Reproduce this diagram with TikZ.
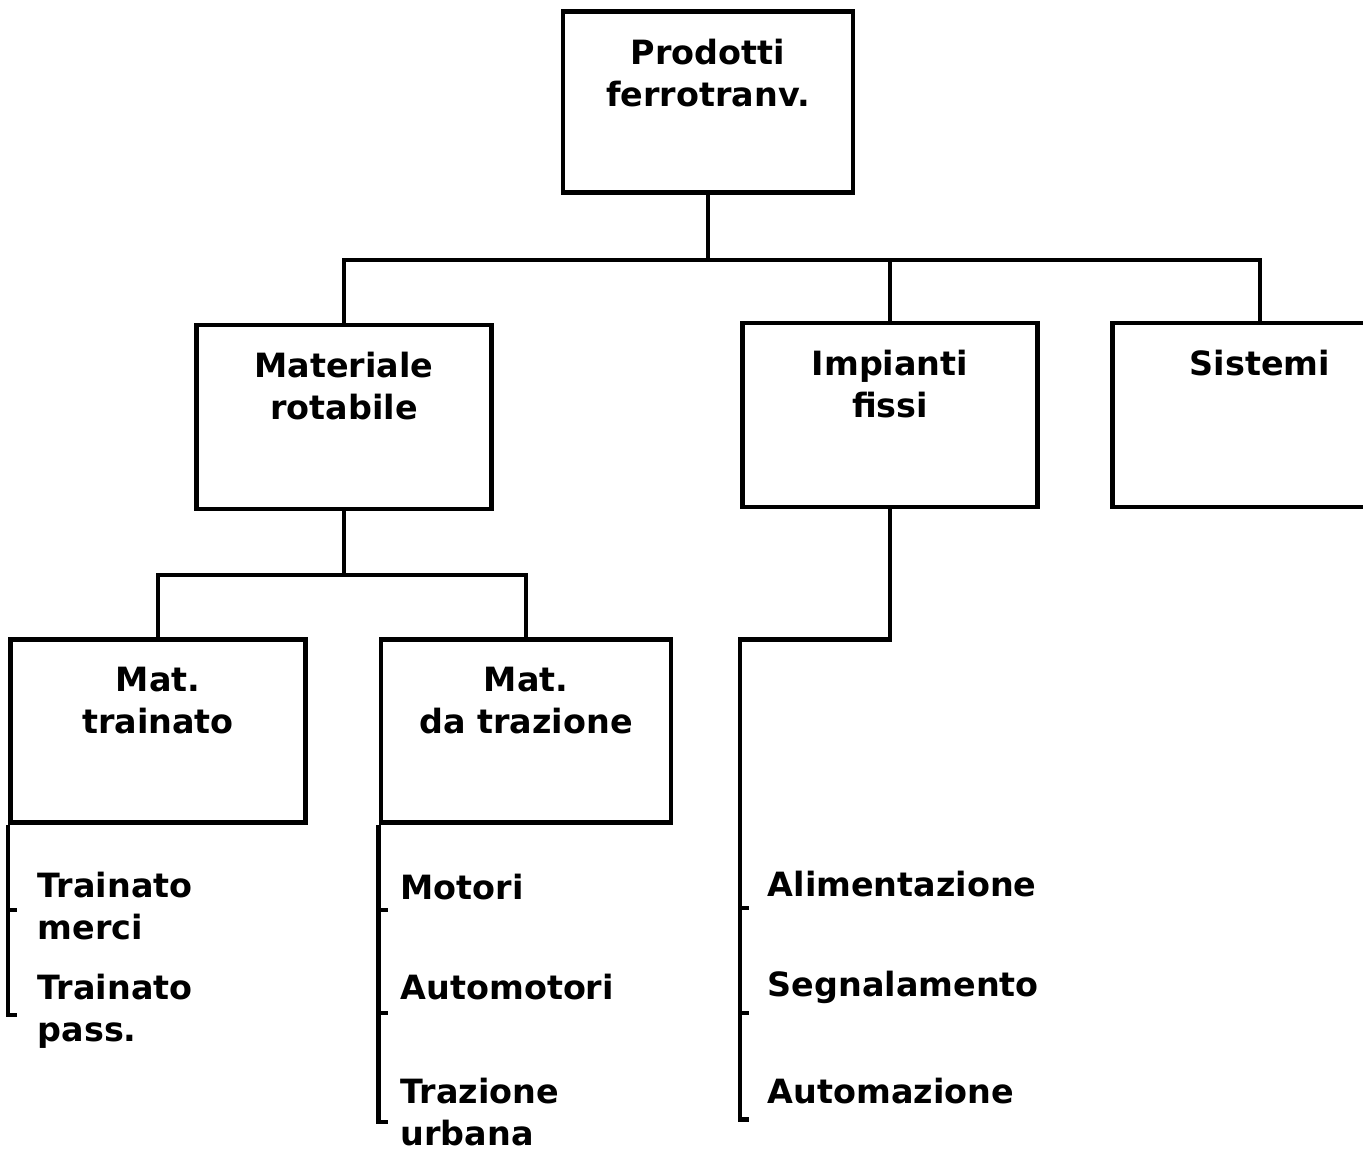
\documentclass[tikz,border=0pt]{standalone}
\usepackage{fontspec}
\setsansfont{DejaVu Sans}
\usetikzlibrary{positioning}

\begin{document}
\begin{tikzpicture}[
    x=0.01cm, y=-0.01cm,
    box/.style={rectangle, draw, line width=1.3pt, inner sep=0pt, minimum width=2.95cm, minimum height=1.84cm},
    title/.style={anchor=north, yshift=-0.29cm, align=center, inner sep=0pt, font=\sffamily\bfseries\fontsize{9.5}{12}\selectfont},
    item/.style={anchor=north west, align=left, inner sep=0pt, font=\sffamily\bfseries\fontsize{9.5}{12}\selectfont},
    conn/.style={line width=1.3pt}
]
    \useasboundingbox[fill=white] (0,0) rectangle (1363,1149);

    \node[box, minimum width=2.9cm, minimum height=1.81cm, label={[title]north:Prodotti\\ferrotranv.}] (prod) at (708,102) {};
    \node[box, label={[title]north:Materiale\\rotabile}] (mat) at (344,417) {};
    \node[box, label={[title]north:Impianti\\fissi}] (imp) at (890,415) {};
    \node[box, label={[title]north:Sistemi}] (sis) at (1260,415) {};
    \node[box, minimum height=1.83cm, label={[title]north:Mat.\\trainato}] (trn) at (158,731) {};
    \node[box, minimum width=2.9cm, minimum height=1.83cm, label={[title]north:Mat.\\da trazione}] (trz) at (526,731) {};

    \coordinate (bus) at (708,260);
    \coordinate (sub) at (344,575);

    \draw[conn] (prod.south) -- (bus);
    \draw[conn] (mat.north) -- (mat.north |- bus) -- (sis.north |- bus) -- (sis.north);
    \draw[conn] (imp.north) -- (imp.north |- bus);
    \draw[conn] (mat.south) -- (sub);
    \draw[conn] (trn.north) -- (trn.north |- sub) -- (trz.north |- sub) -- (trz.north);
    \draw[conn] (imp.south) -- ++(0,130) -| ([yshift=-6.1cm]imp.south west) -- ++(9,0);

    % elenchi
    \node[item] (merci) at (37,871) {Trainato\\merci};
    \node[item] (pass) at (37,973) {Trainato\\pass.};
    \node[item] (mot) at (400,873) {Motori};
    \node[item] (autom) at (400,973) {Automotori};
    \node[item] (urb) at (400,1077) {Trazione\\urbana};
    \node[item] (alim) at (767,870) {Alimentazione};
    \node[item] (segn) at (767,970) {Segnalamento};
    \node[item] (autz) at (767,1077) {Automazione};

    \draw[conn] (trn.south west) -- ++(0,190) -- ++(9,0);
    \draw[conn] (trz.south west) -- ++(0,297) -- ++(9,0);
    \foreach \y in {910} \draw[conn] (trn.south west |- 0,\y) -- ++(9,0);
    \foreach \y in {910,1013} \draw[conn] (trz.south west |- 0,\y) -- ++(9,0);
    \foreach \y in {908,1013} \draw[conn] (imp.south west |- 0,\y) -- ++(9,0);
\end{tikzpicture}
\end{document}
